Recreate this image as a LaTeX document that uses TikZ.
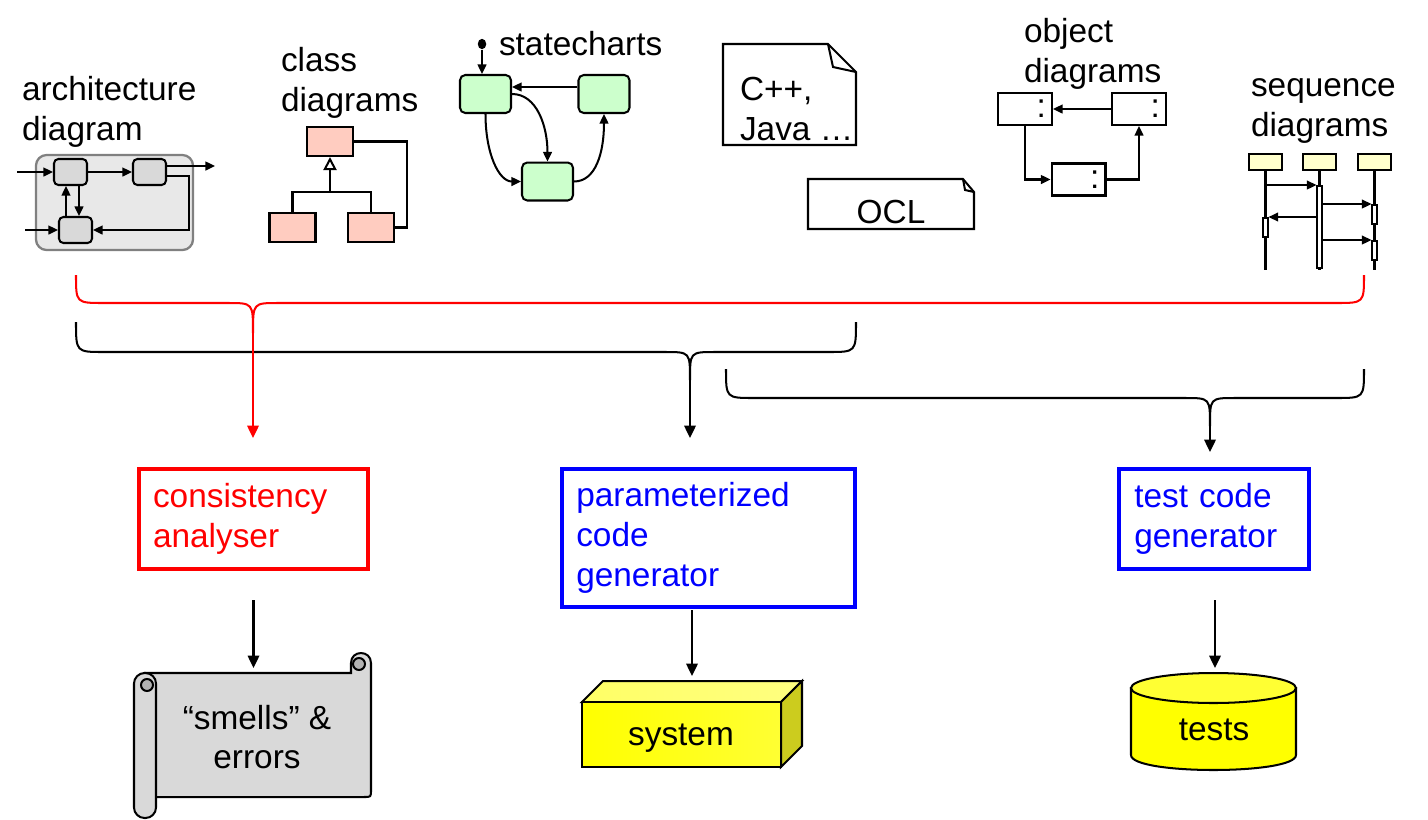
\documentclass[tikz,border=0pt]{standalone}
\usepackage{fontspec}
\setmainfont{Liberation Sans}
\usetikzlibrary{arrows.meta,positioning,shapes.geometric}
\definecolor{mdred}{RGB}{255,0,0}
\definecolor{mdblue}{RGB}{0,0,255}
\definecolor{classfill}{RGB}{255,204,192}
\definecolor{statefill}{RGB}{204,255,204}
\definecolor{seqfill}{RGB}{255,255,204}
\definecolor{archframe}{RGB}{128,128,128}
\definecolor{archfill}{RGB}{232,232,232}
\definecolor{partfill}{RGB}{217,217,217}
\definecolor{sideyellow}{RGB}{204,204,30}
\definecolor{paleyellow}{RGB}{255,255,225}
\newcommand{\mdfont}{\fontsize{19pt}{22.7pt}\selectfont}

\begin{document}
\begin{tikzpicture}[x=0.02cm, y=-0.02cm, line width=1.15pt, font=\mdfont,
  bigarrow/.style={-{Triangle[length=7pt,width=6.5pt]}},
  smallarrow/.style={-{Triangle[length=5.5pt,width=5pt]}},
  mdlabel/.style={align=left, inner sep=0pt, anchor=west},
  archpart/.style={draw, fill=partfill, rounded corners=2.5pt, minimum width=0.66cm, minimum height=0.52cm, inner sep=0pt},
  classbox/.style={draw, fill=classfill, minimum width=0.92cm, minimum height=0.58cm, inner sep=0pt},
  statebox/.style={draw, fill=statefill, rounded corners=3pt, minimum width=1.02cm, minimum height=0.76cm, inner sep=0pt},
  objbox/.style={draw, fill=white, minimum height=0.64cm, inner xsep=0.12cm, inner ysep=0pt, text width=0.84cm, align=right},
  seqhead/.style={draw, fill=seqfill, minimum width=0.66cm, minimum height=0.32cm, inner sep=0pt},
  activation/.style={draw, fill=white, line width=0.9pt, minimum width=0.09cm, inner sep=0pt, anchor=north},
  toolbox/.style={draw, line width=2.5pt, align=left, inner xsep=0.28cm, inner ysep=0pt}]
  \useasboundingbox (0,0) rectangle (1428,819);

  \draw[draw=archframe, fill=archfill, line width=1.3pt, rounded corners=6pt] (36,155) rectangle (193,250);
  \node[archpart] (arch1) at (70.5,172) {};
  \node[archpart] (arch2) at (149.5,172) {};
  \node[archpart] (arch3) at (75.5,230) {};
  \coordinate (archin1) at (17,172);
  \coordinate (archin2) at (25,230);
  \coordinate (archout) at (215,166);
  \draw[smallarrow] (archin1) -- (arch1);
  \draw[smallarrow] (arch1) -- (arch2);
  \draw[smallarrow] (arch2.east |- archout) -- (archout);
  \draw[smallarrow] (arch2.east |- 0,176) -- (189,176) |- (arch3);
  \draw[smallarrow] (archin2) -- (arch3);
  \draw[smallarrow] (79,0 |- arch1.south) -- (79,0 |- arch3.north);
  \draw[smallarrow] (66,0 |- arch3.north) -- (66,0 |- arch1.south);
  \node[mdlabel] (archlabel) at (21,112) {architecture\\diagram};

  \node[classbox] (class1) at (330,141.5) {};
  \node[classbox] (class2) at (292.5,227.5) {};
  \node[classbox] (class3) at (371,227.5) {};
  \draw (class2.north) -- (class2.north |- 0,192) -| (class3.north);
  \draw[-{Triangle[open,length=7.5pt,width=7.5pt]}] (class1.south |- 0,192) -- (class1.south);
  \draw (class1.east) -- (407,0 |- class1.east) |- (class3.east);
  \node[mdlabel] (classlabel) at (280,83) {class\\diagrams};

  \node[statebox] (state1) at (485.5,94) {};
  \node[statebox] (state2) at (604,94) {};
  \node[statebox] (state3) at (547.5,181.5) {};
  \node[ellipse, fill, inner sep=0pt, minimum width=0.17cm, minimum height=0.21cm] (initial) at (482,44) {};
  \draw[smallarrow] (initial) -- (initial |- state1.north);
  \draw[smallarrow] (state2.west |- 0,87) -- (state1.east |- 0,87);
  \draw[smallarrow] (state1.east) .. controls +(25,0) and +(0,-35) .. (state3.north);
  \draw[smallarrow] (state1.south) .. controls +(0,40) and +(-22,0) .. (state3.west);
  \draw[smallarrow] (state3.east) .. controls +(22,0) and +(0,38) .. (state2.south);
  \node[anchor=base west, inner sep=0pt] (statelabel) at (498,55) {statecharts};

  \draw[fill=white] (723,44) -- (828,44) -- (856,72) -- (856,145) -- (723,145) -- cycle;
  \draw (828,44) -- (833,67) -- (856,72);
  \node[mdlabel] (codenote) at (739,109) {C++,\\Java …};
  \draw[fill=white] (808,179) -- (963,179) -- (974,192) -- (974,229) -- (808,229) -- cycle;
  \draw (963,179) -- (965,190) -- (974,192);
  \node[anchor=base, inner sep=0pt] (oclnote) at (891,223) {OCL};

  \node[objbox] (obj1) at (1025,109) {:};
  \node[objbox] (obj2) at (1139,109) {:};
  \node[objbox] (obj3) at (1078.5,179.5) {:};
  \draw[smallarrow] (obj2) -- (obj1);
  \draw[smallarrow] (obj1.south) |- (obj3);
  \draw[smallarrow] (obj3) -| (obj2.south);
  \node[mdlabel] (objlabel) at (1023,54) {object\\diagrams};

  \node[seqhead] (seq1) at (1265.5,162) {};
  \node[seqhead] (seq2) at (1319.5,162) {};
  \node[seqhead] (seq3) at (1374.5,162) {};
  \foreach \s in {seq1,seq2,seq3} \draw (\s.south) -- (\s.south |- 0,270);
  \node[activation, minimum height=1.64cm] (act2) at (1319.5,185) {};
  \node[activation, minimum height=0.38cm] (act1) at (1265.5,217) {};
  \node[activation, minimum height=0.38cm] (act3a) at (1374.5,204) {};
  \node[activation, minimum height=0.38cm] (act3b) at (1374.5,240) {};
  \draw[smallarrow] (seq1.south |- act2.north) -- (act2.north west);
  \draw[smallarrow] (act2.east |- act3a.north) -- (act3a.north west);
  \draw[smallarrow] (act2.west |- act1.north) -- (act1.north east);
  \draw[smallarrow] (act2.east |- act3b.north) -- (act3b.north west);
  \node[mdlabel] (seqlabel) at (1250,111) {sequence\\diagrams};

  \draw (76,322) .. controls (76,352) .. (104,352) -- (665,352) .. controls (690,352) .. (690,380) .. controls (690,352) .. (715,352) -- (828,352) .. controls (856,352) .. (856,322);
  \draw (726,369) .. controls (726,398) .. (754,398) -- (1185,398) .. controls (1210,398) .. (1210,426) .. controls (1210,398) .. (1235,398) -- (1336,398) .. controls (1364,398) .. (1364,369);
  \coordinate (gentip) at (690,380);
  \coordinate (genend) at (690,438);
  \coordinate (testtip) at (1210,426);
  \coordinate (testend) at (1210,452);
  \draw[bigarrow] (gentip) -- (genend);
  \draw[bigarrow] (testtip) -- (testend);
  \draw[mdred] (76,275) .. controls (76,303) .. (104,303) -- (228,303) .. controls (253,303) .. (253,333) .. controls (253,303) .. (278,303) -- (1336,303) .. controls (1364,303) .. (1364,275);
  \coordinate (redtip) at (253,333);
  \coordinate (redend) at (253,438);
  \draw[bigarrow, mdred] (redtip) -- (redend);

  \node[toolbox, draw=mdred, text=mdred, text width=4.02cm, minimum height=1.99cm] (consistency) at (253.5,519) {consistency\\analyser};
  \node[toolbox, draw=mdblue, text=mdblue, text width=5.29cm, minimum height=2.75cm] (codegen) at (708.5,538) {parameterized\\code\\generator};
  \node[toolbox, draw=mdblue, text=mdblue, text width=3.19cm, inner xsep=0.3cm, minimum height=1.99cm] (testgen) at (1214,519) {test code\\generator};

  \draw[fill=gray!30] (145,673) -- (351,673) -- (351,663) .. controls (351,649.7) and (371,649.7) .. (371,663) -- (371,790) .. controls (371,797) .. (364,797) -- (145,797) -- cycle;
  \draw[fill=gray!60] (359,664) circle (6);
  \draw[fill=gray!30, rounded corners=6pt] (134,673) rectangle (156,818);
  \draw[fill=gray!60] (147,685) circle (6);
  \node[align=center, inner sep=0pt] (smells) at (257,737) {“smells” \&\\errors};

  \draw[shading=axis, left color=yellow!60, middle color=paleyellow, right color=yellow!50] (582,702) -- (603,681) -- (802,681) -- (781,702) -- cycle;
  \draw[fill=sideyellow] (781,702) -- (802,681) -- (802,746) -- (781,767) -- cycle;
  \draw[shading=axis, left color=yellow, middle color=paleyellow, right color=yellow!80] (582,702) rectangle (781,767);
  \node[anchor=base, inner sep=0pt] (system) at (681,745) {system};

  \draw[shading=axis, left color=yellow, middle color=paleyellow, right color=yellow] (1131,688) -- (1131,755) .. controls (1131,775) and (1296,775) .. (1296,755) -- (1296,688) -- cycle;
  \draw[shading=axis, left color=yellow!80, middle color=paleyellow, right color=yellow!80] (1213.5,688) ellipse (82.5 and 15);
  \node[anchor=base, inner sep=0pt] (tests) at (1214,740) {tests};

  \coordinate (consout) at (253.5,600);
  \coordinate (scrollin) at (253.5,668);
  \coordinate (codeout) at (692,610);
  \coordinate (systemin) at (692,676);
  \coordinate (testout) at (1215,600);
  \coordinate (testsin) at (1215,668);
  \draw[bigarrow] (consout) -- (scrollin);
  \draw[bigarrow] (codeout) -- (systemin);
  \draw[bigarrow] (testout) -- (testsin);
\end{tikzpicture}
\end{document}
